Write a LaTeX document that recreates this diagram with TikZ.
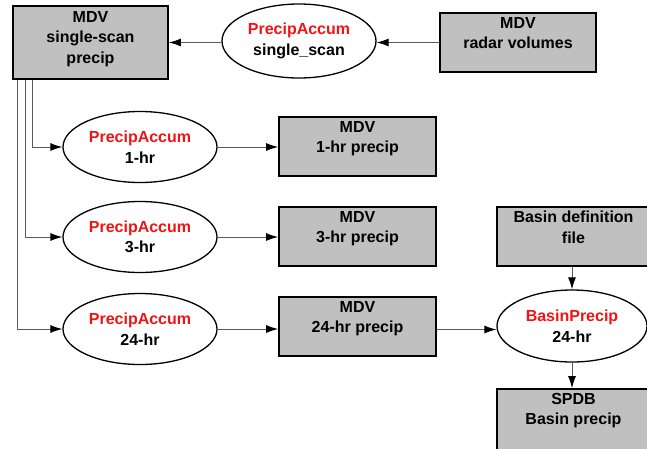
\documentclass[tikz,border=0pt]{standalone}
\usepackage{fontspec}
\setmainfont{Liberation Sans}
\usetikzlibrary{arrows.meta,shapes.geometric}
\definecolor{boxgray}{RGB}{192,192,192}
\definecolor{linegray}{RGB}{90,90,90}
\definecolor{tred}{RGB}{240,20,20}
\tikzset{
  txtfont/.style={font=\fontsize{16}{20.5}\selectfont\bfseries},
  box/.style={draw=black, line width=1.8pt, fill=boxgray, inner sep=0pt},
  boxtxt/.style={txtfont, align=center, inner sep=0pt, anchor=north},
  ell/.style={ellipse, draw=black, line width=1.3pt, fill=white, inner sep=0pt,
    minimum width=154pt, minimum height=71pt, align=center, txtfont},
  conn/.style={draw=linegray, line width=0.9pt, -{Latex[length=12pt,width=8pt,color=black]}}
}
\begin{document}
\begin{tikzpicture}[x=1pt,y=-1pt]
\useasboundingbox (0,0) rectangle (647,448);
\clip (0,0) rectangle (647,448);
% boxes
\node[box, minimum width=155pt, minimum height=73pt] (b0) at (90.5,42.5) {};
\node[boxtxt] (b0t) at ([yshift=-6pt]b0.north) {MDV\\single-scan\\precip};
\node[box, minimum width=156pt, minimum height=59pt] (rv) at (518,42.5) {};
\node[boxtxt] (rvt) at ([yshift=-5pt]rv.north) {MDV\\radar volumes};
\node[box, minimum width=157pt, minimum height=59pt] (b1) at (357.5,146.5) {};
\node[boxtxt] (b1t) at ([yshift=-5pt]b1.north) {MDV\\1-hr precip};
\node[box, minimum width=157pt, minimum height=59pt] (b2) at (357.5,236.5) {};
\node[boxtxt] (b2t) at ([yshift=-5pt]b2.north) {MDV\\3-hr precip};
\node[box, minimum width=157pt, minimum height=59pt] (b3) at (357.5,326.5) {};
\node[boxtxt] (b3t) at ([yshift=-5pt]b3.north) {MDV\\24-hr precip};
\node[box, minimum width=153pt, minimum height=59pt] (bd) at (573.5,236.5) {};
\node[boxtxt] (bdt) at ([yshift=-5pt]bd.north) {Basin definition\\file};
\node[box, minimum width=153pt, minimum height=69pt] (sp) at (573.5,423.5) {};
\node[boxtxt] (spt) at ([yshift=-5pt]sp.north) {SPDB\\Basin precip};
% ellipses
\node[ell, minimum height=74pt] (e0) at (299,41) {\textcolor{tred}{PrecipAccum}\\single\_scan};
\node[ell] (e1) at (140,147) {\textcolor{tred}{PrecipAccum}\\1-hr};
\node[ell] (e2) at (140,237) {\textcolor{tred}{PrecipAccum}\\3-hr};
\node[ell] (e3) at (140,329) {\textcolor{tred}{PrecipAccum}\\24-hr};
\node[ell, minimum width=150pt, minimum height=72pt] (bp) at (572,326) {\textcolor{tred}{BasinPrecip}\\24-hr};
% connectors
\draw[conn] (rv.west) -- (rv.west -| e0.east);
\draw[conn] (e0.west |- b0.east) -- (b0.east);
\draw[conn] ([xshift=20pt]b0.south west) |- (e1.west);
\draw[conn] ([xshift=13pt]b0.south west) |- (e2.west);
\draw[conn] ([xshift=5pt]b0.south west) |- (e3.west);
\draw[conn] (e1.east) -- (e1.east -| b1.west);
\draw[conn] (e2.east) -- (e2.east -| b2.west);
\draw[conn] (e3.east) -- (e3.east -| b3.west);
\draw[conn] ([yshift=-3pt]b3.east) -- ([yshift=-3pt]b3.east -| bp.west);
\draw[conn] (bp.north |- bd.south) -- (bp.north);
\draw[conn] (bp.south) -- (bp.south |- sp.north);
\end{tikzpicture}
\end{document}
